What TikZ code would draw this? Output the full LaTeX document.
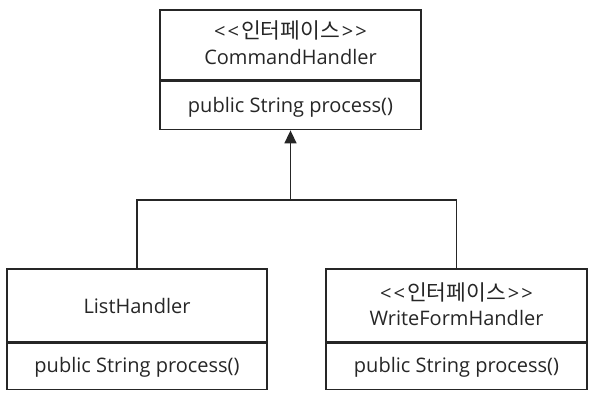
\documentclass[tikz,border=0pt]{standalone}
\usepackage{fontspec}
\setmainfont{Open Sans}[Ligatures=TeXOff]
\newfontfamily\kr{Noto Sans CJK KR}
\newcommand{\stereo}{<\hspace{2pt}<\hspace{2pt}{\kr\fontsize{21.5}{24}\selectfont 인터페이스}\hspace{2pt}>\hspace{2pt}>}
\usetikzlibrary{arrows.meta}
\begin{document}
\begin{tikzpicture}[x=1pt,y=-1pt,
  box/.style={draw=black!85, line width=1.6pt, inner sep=0pt},
  txt/.style={anchor=base, inner sep=0pt, font=\fontsize{20}{24}\selectfont, text=black!85},
  link/.style={draw=black!85, line width=1.6pt},
  inherit/.style={link, -{Triangle[width=12pt,length=13pt]}}]
\useasboundingbox (0,0) rectangle (594,395);
% CommandHandler
\node[box, minimum width=261pt, minimum height=70pt] (chh) at (290.5,45) {};
\node[box, minimum width=261pt, minimum height=48pt, anchor=north] (chm) at (chh.south) {};
\node[txt] (cht1) at (290.5,39) {\stereo};
\node[txt] (cht2) at (290.5,65) {CommandHandler};
\node[txt] (chmt) at (290.5,113) {public String process()};
% ListHandler
\node[box, minimum width=260pt, minimum height=73pt] (lhh) at (137,305.5) {};
\node[box, minimum width=260pt, minimum height=46pt, anchor=north] (lhm) at (lhh.south) {};
\node[txt] (lht) at (137,313) {ListHandler};
\node[txt] (lhmt) at (137,372) {public String process()};
% WriteFormHandler
\node[box, minimum width=261pt, minimum height=73pt] (wfh) at (456.5,305.5) {};
\node[box, minimum width=261pt, minimum height=46pt, anchor=north] (wfm) at (wfh.south) {};
\node[txt] (wft1) at (456.5,300) {\stereo};
\node[txt] (wft2) at (456.5,325) {WriteFormHandler};
\node[txt] (wfmt) at (456.5,372) {public String process()};
% connectors
\coordinate (j) at (290.5,200);
\draw[link] (lhh.north) |- (j) -| (wfh.north);
\draw[inherit] (j) -- (chm.south);
\end{tikzpicture}
\end{document}
